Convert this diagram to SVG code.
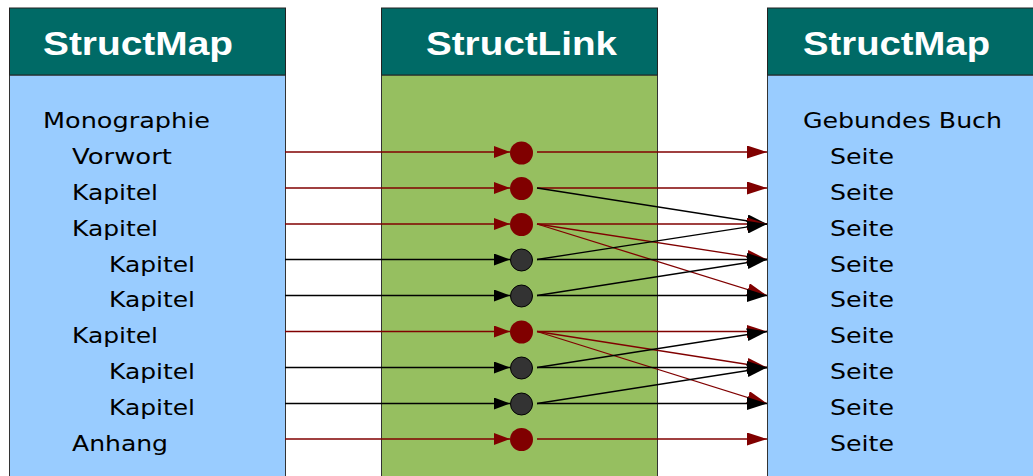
<svg xmlns="http://www.w3.org/2000/svg" width="1033" height="476" viewBox="0 0 1033 476">
<style>
.hdr{fill:#006A66;stroke:#222;stroke-width:1}
.blue{fill:#99CCFF;stroke:#333;stroke-width:1}
.green{fill:#96BF60;stroke:#333;stroke-width:1}
.ht{font-family:"Liberation Sans",Arial,sans-serif;font-weight:bold;font-size:33px;fill:#fff}
.t{font-family:"DejaVu Sans",Verdana,sans-serif;font-size:22px;fill:#000}
.r{stroke:#800000;stroke-width:1.3;fill:none}
.k{stroke:#000;stroke-width:1.3;fill:none}
.rl{marker-end:url(#ars)}
.kl{marker-end:url(#aks)}
.rr{marker-end:url(#arl)}
.kr{marker-end:url(#akl)}
.dr{fill:#800000}
.dk{fill:#333;stroke:#000;stroke-width:1}
</style>
<defs>
<marker id="ars" markerUnits="userSpaceOnUse" markerWidth="16" markerHeight="12" refX="16" refY="6" orient="auto"><path d="M0,0L16,6L0,12z" fill="#800000"/></marker>
<marker id="aks" markerUnits="userSpaceOnUse" markerWidth="16" markerHeight="12" refX="16" refY="6" orient="auto"><path d="M0,0L16,6L0,12z" fill="#000"/></marker>
<marker id="arl" markerUnits="userSpaceOnUse" markerWidth="20" markerHeight="13" refX="20" refY="6.5" orient="auto"><path d="M0,0L20,6.5L0,13z" fill="#800000"/></marker>
<marker id="akl" markerUnits="userSpaceOnUse" markerWidth="20" markerHeight="13" refX="20" refY="6.5" orient="auto"><path d="M0,0L20,6.5L0,13z" fill="#000"/></marker>
</defs>
<rect width="1033" height="476" fill="#fff"/>
<g id="structmap-left">
<rect class="blue" x="9.5" y="75" width="276" height="410"/>
<rect class="hdr" x="9.5" y="8" width="276" height="67"/>
<text class="ht" x="43" y="55" textLength="190" lengthAdjust="spacingAndGlyphs">StructMap</text>
<text class="t" x="43" y="128" textLength="167" lengthAdjust="spacingAndGlyphs">Monographie</text>
<text class="t" x="72" y="163.5" textLength="100" lengthAdjust="spacingAndGlyphs">Vorwort</text>
<text class="t" x="72" y="199.5" textLength="86" lengthAdjust="spacingAndGlyphs">Kapitel</text>
<text class="t" x="72" y="235.5" textLength="86" lengthAdjust="spacingAndGlyphs">Kapitel</text>
<text class="t" x="109" y="271.5" textLength="86" lengthAdjust="spacingAndGlyphs">Kapitel</text>
<text class="t" x="109" y="307" textLength="86" lengthAdjust="spacingAndGlyphs">Kapitel</text>
<text class="t" x="72" y="342.5" textLength="86" lengthAdjust="spacingAndGlyphs">Kapitel</text>
<text class="t" x="109" y="378.5" textLength="86" lengthAdjust="spacingAndGlyphs">Kapitel</text>
<text class="t" x="109" y="414.5" textLength="86" lengthAdjust="spacingAndGlyphs">Kapitel</text>
<text class="t" x="72" y="450.5" textLength="96" lengthAdjust="spacingAndGlyphs">Anhang</text>
</g>
<g id="structlink">
<rect class="green" x="381.5" y="75" width="276" height="410"/>
<rect class="hdr" x="381.5" y="8" width="276" height="67"/>
<text class="ht" x="426" y="55" textLength="191" lengthAdjust="spacingAndGlyphs">StructLink</text>
</g>
<g id="structmap-right">
<rect class="blue" x="767.5" y="75" width="280" height="410"/>
<rect class="hdr" x="767.5" y="8" width="280" height="67"/>
<text class="ht" x="803" y="55" textLength="187" lengthAdjust="spacingAndGlyphs">StructMap</text>
<text class="t" x="803" y="128" textLength="199" lengthAdjust="spacingAndGlyphs">Gebundes Buch</text>
<text class="t" x="830" y="163.5" textLength="64" lengthAdjust="spacingAndGlyphs">Seite</text>
<text class="t" x="830" y="199.5" textLength="64" lengthAdjust="spacingAndGlyphs">Seite</text>
<text class="t" x="830" y="235.5" textLength="64" lengthAdjust="spacingAndGlyphs">Seite</text>
<text class="t" x="830" y="271.5" textLength="64" lengthAdjust="spacingAndGlyphs">Seite</text>
<text class="t" x="830" y="307" textLength="64" lengthAdjust="spacingAndGlyphs">Seite</text>
<text class="t" x="830" y="342.5" textLength="64" lengthAdjust="spacingAndGlyphs">Seite</text>
<text class="t" x="830" y="378.5" textLength="64" lengthAdjust="spacingAndGlyphs">Seite</text>
<text class="t" x="830" y="414.5" textLength="64" lengthAdjust="spacingAndGlyphs">Seite</text>
<text class="t" x="830" y="450.5" textLength="64" lengthAdjust="spacingAndGlyphs">Seite</text>
</g>
<g id="connectors">
<line class="r rl" x1="285" y1="152" x2="510" y2="152"/>
<line class="r rl" x1="285" y1="188" x2="510" y2="188"/>
<line class="r rl" x1="285" y1="224" x2="510" y2="224"/>
<line class="k kl" x1="285" y1="259.5" x2="510" y2="259.5"/>
<line class="k kl" x1="285" y1="295.5" x2="510" y2="295.5"/>
<line class="r rl" x1="285" y1="331.5" x2="510" y2="331.5"/>
<line class="k kl" x1="285" y1="367.5" x2="510" y2="367.5"/>
<line class="k kl" x1="285" y1="403.5" x2="510" y2="403.5"/>
<line class="r rl" x1="285" y1="439" x2="510" y2="439"/>
<line class="r rr" x1="537" y1="152" x2="767" y2="152"/>
<line class="r rr" x1="537" y1="188" x2="767" y2="188"/>
<line class="k kr" x1="537" y1="188" x2="767" y2="224"/>
<line class="r rr" x1="537" y1="224" x2="767" y2="224"/>
<line class="r rr" x1="537" y1="224" x2="767" y2="259.5"/>
<line class="r rr" x1="537" y1="224" x2="767" y2="295.5"/>
<line class="k kr" x1="537" y1="259.5" x2="767" y2="224"/>
<line class="k kr" x1="537" y1="259.5" x2="767" y2="259.5"/>
<line class="k kr" x1="537" y1="295.5" x2="767" y2="259.5"/>
<line class="k kr" x1="537" y1="295.5" x2="767" y2="295.5"/>
<line class="r rr" x1="537" y1="331.5" x2="767" y2="331.5"/>
<line class="r rr" x1="537" y1="331.5" x2="767" y2="367.5"/>
<line class="r rr" x1="537" y1="331.5" x2="767" y2="403.5"/>
<line class="k kr" x1="537" y1="367.5" x2="767" y2="331.5"/>
<line class="k kr" x1="537" y1="367.5" x2="767" y2="367.5"/>
<line class="k kr" x1="537" y1="403.5" x2="767" y2="367.5"/>
<line class="k kr" x1="537" y1="403.5" x2="767" y2="403.5"/>
<line class="r rr" x1="537" y1="439" x2="767" y2="439"/>
</g>
<g id="link-dots">
<circle id="dot1" class="dr" cx="521.5" cy="153" r="11.5"/>
<circle id="dot2" class="dr" cx="521.5" cy="188.5" r="11.5"/>
<circle id="dot3" class="dr" cx="521.5" cy="224.5" r="11.5"/>
<circle id="dot4" class="dk" cx="521.5" cy="260" r="11"/>
<circle id="dot5" class="dk" cx="521.5" cy="296" r="11"/>
<circle id="dot6" class="dr" cx="521.5" cy="332" r="11.5"/>
<circle id="dot7" class="dk" cx="521.5" cy="368" r="11"/>
<circle id="dot8" class="dk" cx="521.5" cy="404" r="11"/>
<circle id="dot9" class="dr" cx="521.5" cy="439.5" r="11.5"/>
</g>
</svg>
